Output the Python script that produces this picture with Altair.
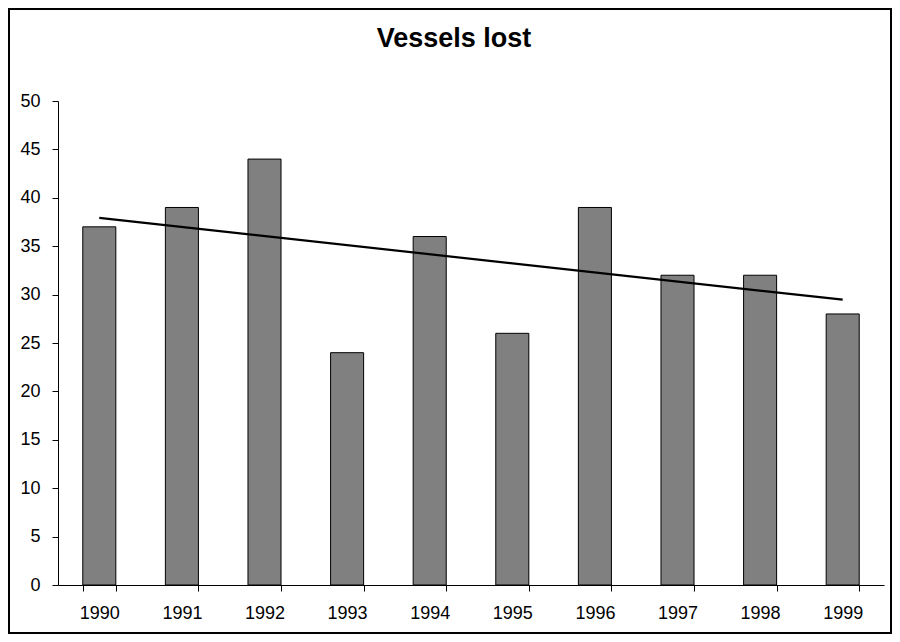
import altair as alt
import pandas as pd

years = [1990, 1991, 1992, 1993, 1994, 1995, 1996, 1997, 1998, 1999]
vessels = [37, 39, 44, 24, 36, 26, 39, 32, 32, 28]
y_ticks = [0, 5, 10, 15, 20, 25, 30, 35, 40, 45, 50]

df = pd.DataFrame({"year": years, "vessels": vessels})

W, H = 826, 484
PL, PT, PR, PB = 50, 93, 8, 49
FONT = "Liberation Sans"

axis_common = dict(
    labelFont=FONT,
    labelFontSize=18,
    labelColor="black",
    domainColor="black",
    tickColor="black",
    domainWidth=1,
    tickWidth=1,
    tickSize=6,
    grid=False,
)

x_enc = alt.X(
    "year:O",
    title=None,
    scale=alt.Scale(paddingInner=0.6, paddingOuter=0.3),
    axis=alt.Axis(labelAngle=0, tickBand="extent", labelPadding=13, **axis_common),
)
y_enc = alt.Y(
    "vessels:Q",
    title=None,
    scale=alt.Scale(domain=[0, 50], nice=False),
    axis=alt.Axis(values=y_ticks, labelPadding=12, **axis_common),
)

bars = alt.Chart(df).mark_bar(
    color="#808080", stroke="black", strokeWidth=1
).encode(x=x_enc, y=y_enc)

trend = alt.Chart(df).transform_regression(
    "year", "vessels", method="linear"
).mark_line(color="black", strokeWidth=2.2).encode(
    x=alt.X("year:O"), y=alt.Y("vessels:Q")
)

frame = alt.Chart(alt.Data(values=[{"a": 1}])).mark_rect(
    fill="transparent", stroke="black", strokeWidth=2
).encode(
    x=alt.value(-PL + 1),
    x2=alt.value(W + PR - 1),
    y=alt.value(-PT + 1),
    y2=alt.value(H + PB - 1),
)

chart = alt.layer(frame, bars, trend).properties(
    width=W,
    height=H,
    autosize=alt.AutoSizeParams(type="none"),
    padding={"left": PL, "top": PT, "right": PR, "bottom": PB},
    view=alt.ViewBackground(stroke="transparent", strokeWidth=0),
    title=alt.TitleParams(
        "Vessels lost",
        font=FONT,
        fontSize=27,
        fontWeight="bold",
        color="black",
        anchor="middle",
        dx=-17,
        offset=-45,
    ),
).configure_view(strokeWidth=0).configure(background="white")

chart.save("out.html", embed_options={"renderer": "svg", "actions": False})
